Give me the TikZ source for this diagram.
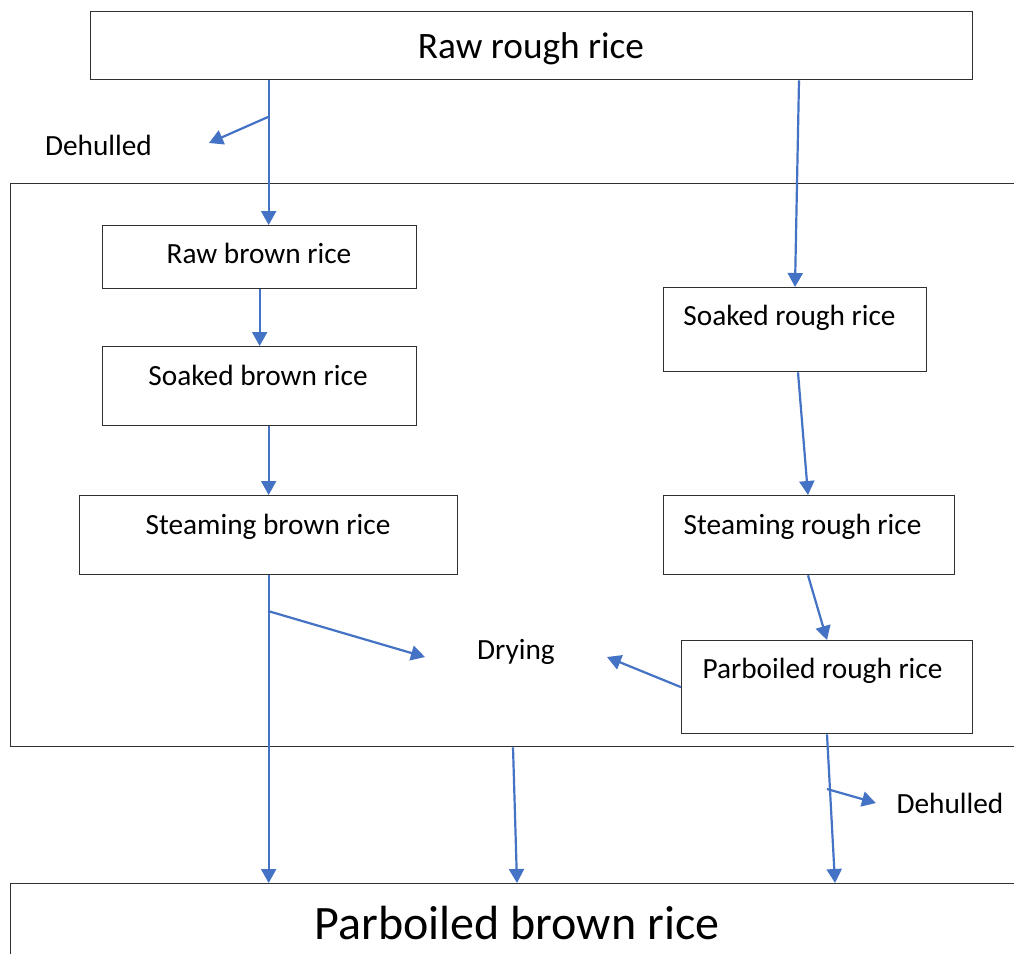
\documentclass[tikz,border=0pt]{standalone}
\usepackage{fontspec}
\setmainfont{Carlito}
\usetikzlibrary{arrows.meta,calc}
\definecolor{arrowblue}{HTML}{4472C4}
\definecolor{boxgray}{HTML}{303030}
\begin{document}
\begin{tikzpicture}[x=1pt,y=-1pt,
  box/.style={draw=boxgray,line width=1.3pt,inner sep=0pt,anchor=north west},
  flow/.style={draw=arrowblue,line width=2.2pt,-{Triangle[length=14pt,width=15pt]}},
  lbl/.style={anchor=base,inner sep=0pt,font=\fontsize{29.3}{35}\selectfont},
]
\clip (0,0) rectangle (1014,953);
\fill[white] (0,0) rectangle (1014,953);

% boxes
\node[box,minimum width=882pt,minimum height=68pt] (top) at (90,11) {};
\node[box,minimum width=1020pt,minimum height=563pt] (outer) at (10,183) {};
\node[box,minimum width=314pt,minimum height=63pt] (rbr) at (102,225) {};
\node[box,minimum width=314pt,minimum height=79pt] (sbr) at (102,346) {};
\node[box,minimum width=378pt,minimum height=79pt] (stb) at (79,495) {};
\node[box,minimum width=263pt,minimum height=84pt] (srr) at (663,287) {};
\node[box,minimum width=291pt,minimum height=79pt] (str) at (663,495) {};
\node[box,minimum width=291pt,minimum height=93pt] (prr) at (681,640) {};
\node[box,minimum width=1020pt,minimum height=100pt] (bot) at (10,883) {};

% texts
\node[lbl,font=\fontsize{37.3}{44}\selectfont] (ttop) at (531,58) {Raw rough rice};
\node[lbl,font=\fontsize{48}{56}\selectfont] (tbot) at (517,939) {Parboiled brown rice};
\node[lbl] (trbr) at (259,263) {Raw brown rice};
\node[lbl] (tsbr) at (258,385) {Soaked brown rice};
\node[lbl] (tstb) at (268,534) {Steaming brown rice};
\node[lbl] (tsrr) at (789.5,325) {Soaked rough rice};
\node[lbl] (tstr) at (802.5,534) {Steaming rough rice};
\node[lbl] (tprr) at (822.5,678) {Parboiled rough rice};
\node[lbl] (dehl) at (98.5,155) {Dehulled};
\node[lbl] (dehr) at (950,813) {Dehulled};
\node[lbl] (dry) at (516,659) {Drying};

% branch points and free ends
\coordinate (bl) at (268,117);
\coordinate (blend) at (209,143);
\coordinate (bd) at (268,611);
\coordinate (bdend) at (425,657);
\coordinate (prend) at (607,657);
\coordinate (br) at (827,789);
\coordinate (brend) at (876,803);

% connectors
\draw[flow] (top.south -| stb.north) -- (rbr.north -| stb.north);
\draw[flow] (bl) -- (blend);
\draw[flow] (rbr.south) -- (sbr.north);
\draw[flow] (sbr.south -| stb.north) -- (stb.north);
\draw[flow] (stb.south) -- (bot.north -| stb.south);
\draw[flow] (bd) -- (bdend);
\draw[flow] ($(top.south west)+(709,0)$) -- ($(srr.north west)+(132,0)$);
\draw[flow] ($(srr.south west)+(135,0)$) -- ($(str.north west)+(145,0)$);
\draw[flow] ($(str.south west)+(145,0)$) -- ($(prr.north west)+(146,0)$);
\draw[flow] (prr.west) -- (prend);
\draw[flow] ($(prr.south west)+(146,0)$) -- ($(bot.north west)+(825,0)$);
\draw[flow] (br) -- (brend);
\draw[flow] ($(outer.south west)+(503,0)$) -- ($(bot.north west)+(507,0)$);
\end{tikzpicture}
\end{document}
